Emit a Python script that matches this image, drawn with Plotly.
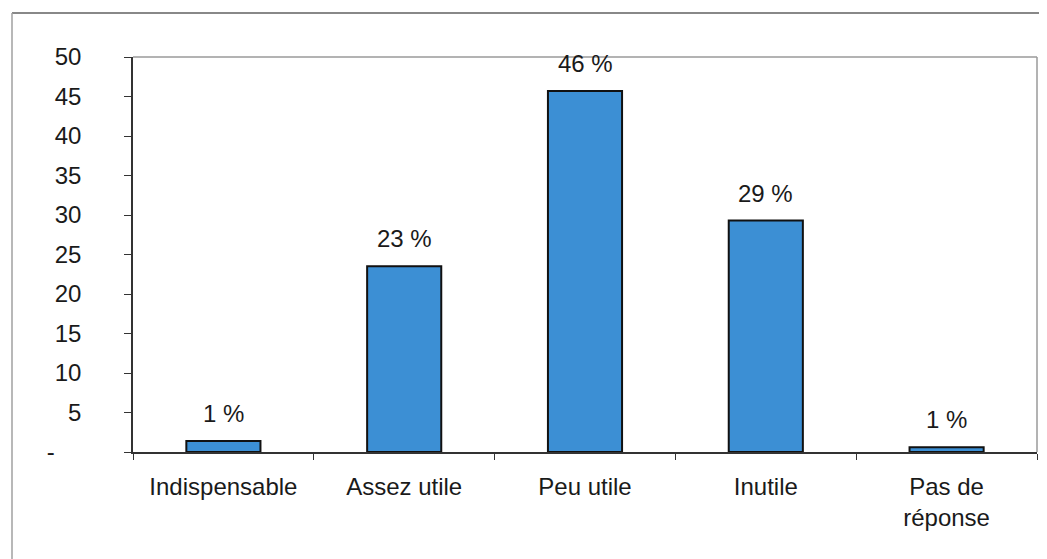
import plotly.graph_objects as go

categories = ["Indispensable", "Assez utile", "Peu utile", "Inutile", "Pas de<br>réponse"]
values = [1.4, 23.5, 45.7, 29.3, 0.6]
labels = ["1 %", "23 %", "46 %", "29 %", "1 %"]
ytick_vals = [0, 5, 10, 15, 20, 25, 30, 35, 40, 45, 50]
ytick_text = ["-\u00a0\u00a0\u00a0\u00a0", "5", "10", "15", "20", "25", "30", "35", "40", "45", "50"]

# the page body has an 8px margin; figure coordinates are page coordinates minus 8
OFF = 8
W, H = 1047 - OFF, 559 - OFF
L, R, T, B = 133 - OFF, 10, 57 - OFF, 107
pw = W - L - R
ph = H - T - B

def px_x(x):
    return (x - OFF - L) / pw

def px_y(y):
    return (H - B - (y - OFF)) / ph

font = dict(family="Liberation Sans, Arial, sans-serif", size=24, color="#1a1a1a")

fig = go.Figure()
fig.add_trace(go.Bar(
    x=categories, y=values, width=0.41,
    marker=dict(color="#3c8fd4", line=dict(color="#111111", width=2)),
    hoverinfo="skip", showlegend=False,
))

for c, v, t in zip(categories, values, labels):
    fig.add_annotation(x=c, y=v, xref="x", yref="y", text=t, showarrow=False,
                       yanchor="bottom", yshift=12, font=font)

shapes = [
    dict(type="line", xref="paper", yref="paper", x0=0, x1=1, y0=1, y1=1,
         line=dict(color="#9a9a9a", width=1.5)),
    dict(type="line", xref="paper", yref="paper", x0=1, x1=1, y0=0, y1=1,
         line=dict(color="#9a9a9a", width=1.5)),
    dict(type="line", xref="paper", yref="paper", x0=px_x(12), x1=px_x(1060),
         y0=px_y(13), y1=px_y(13), line=dict(color="#606060", width=1.5)),
    dict(type="line", xref="paper", yref="paper", x0=px_x(12), x1=px_x(12),
         y0=px_y(13), y1=px_y(580), line=dict(color="#a0a0a0", width=1.5)),
]

fig.update_layout(
    width=W, height=H,
    margin=dict(l=L, r=R, t=T, b=B),
    paper_bgcolor="white", plot_bgcolor="white",
    font=font,
    shapes=shapes,
)
fig.update_xaxes(
    type="category", showgrid=False, showline=True, linecolor="#333333", linewidth=1.5,
    ticks="outside", tickson="boundaries", ticklen=6, tickcolor="#333333",
    ticklabelstandoff=12, tickfont=font,
)
fig.update_yaxes(
    range=[0, 50], showgrid=False, zeroline=False, showline=True, linecolor="#333333",
    linewidth=1.5, ticks="outside", ticklen=7, tickcolor="#333333",
    tickvals=ytick_vals, ticktext=ytick_text, ticklabelstandoff=38, tickfont=font,
)

fig.write_html("out.html")
